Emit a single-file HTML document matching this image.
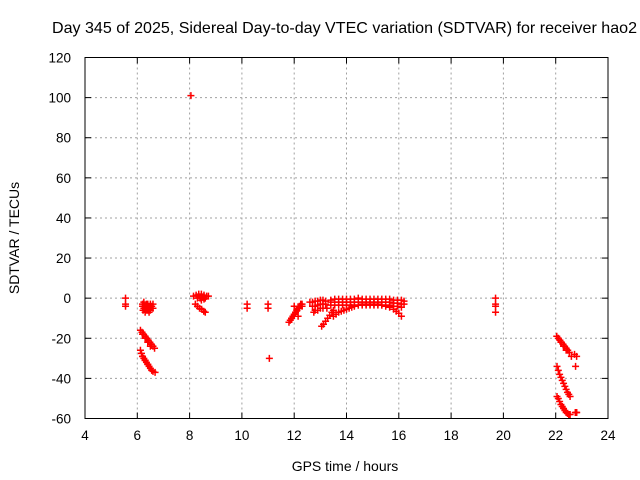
<!DOCTYPE html>
<html><head><meta charset="utf-8"><style>
body{margin:0;background:#fff}
svg{display:block;font-family:"Liberation Sans",sans-serif}
</style></head><body>
<svg id="chart" width="640" height="480" viewBox="0 0 640 480">
<rect width="640" height="480" fill="#fff"/>
<text x="52" y="33" font-size="16" textLength="585" lengthAdjust="spacingAndGlyphs">Day 345 of 2025, Sidereal Day-to-day VTEC variation (SDTVAR) for receiver hao2</text>
<g id="grid"></g>
<g id="ticks"></g>
<g id="pts"></g>
<rect x="85" y="57.5" width="523" height="361" fill="none" stroke="#000" stroke-width="1"/>
<text transform="translate(19,238) rotate(-90)" font-size="14" text-anchor="middle">SDTVAR / TECUs</text>
<text x="345" y="471" font-size="14" text-anchor="middle">GPS time / hours</text>
</svg>
<script>
const xTicks=[4,6,8,10,12,14,16,18,20,22,24];
const yTicks=[-60,-40,-20,0,20,40,60,80,100,120];
const hours=[5.55,5.55,5.55,
6.2,6.25,6.3,6.35,6.4,6.45,6.5,6.55,6.6,6.3,6.4,6.25,6.5,6.22,6.35,6.45,6.6,6.3,6.5,6.2,6.4,
6.12,6.18,6.24,6.3,6.36,6.42,6.48,6.54,6.6,6.66,6.2,6.3,6.4,6.5,
6.12,6.16,6.2,6.25,6.3,6.35,6.4,6.45,6.5,6.55,6.6,6.68,6.2,6.3,6.4,
8.05,
8.15,8.25,8.35,8.45,8.55,8.65,8.72,8.3,8.4,8.5,8.6,8.45,8.55,
8.22,8.3,8.38,8.46,8.54,8.6,
10.2,10.2,11.0,11.0,11.05,
11.8,11.85,11.9,11.95,12.0,12.05,12.1,12.15,12.2,12.25,12.3,12.0,12.1,12.2,12.3,12.15,11.9,
12.6,12.7,12.8,12.9,13.0,13.1,13.2,12.7,12.8,12.9,13.0,13.1,13.2,12.8,12.9,13.0,13.1,12.75,13.25,
13.05,13.12,13.2,13.28,13.36,13.44,13.5,
13.4,13.55,13.7,13.85,14.0,14.15,14.3,14.45,14.6,14.75,14.9,15.05,15.2,15.35,15.5,15.65,15.8,15.95,16.1,16.2,
13.4,13.55,13.7,13.85,14.0,14.15,14.3,14.45,14.6,14.75,14.9,15.05,15.2,15.35,15.5,15.65,15.8,15.95,16.1,16.2,
13.4,13.55,13.7,13.85,14.0,14.15,14.3,14.45,14.6,14.75,14.9,15.05,15.2,15.35,15.5,15.65,15.8,15.95,16.1,
13.5,13.6,13.7,13.8,13.9,14.0,14.1,14.2,14.3,14.45,14.6,14.75,14.9,15.05,15.2,15.35,15.5,15.65,15.8,15.9,16.0,16.1,
19.7,19.7,19.7,19.7,
22.04,22.1,22.16,22.22,22.28,22.34,22.4,22.46,22.52,22.6,22.2,22.3,22.4,
22.72,22.8,22.76,22.8,
22.05,22.1,22.15,22.2,22.25,22.3,22.35,22.4,22.45,22.5,22.55,
22.05,22.1,22.15,22.2,22.25,22.3,22.35,22.4,22.45,22.5,22.55,22.8,22.75];
const values=[0,-3,-4,
-3,-5,-4,-6,-5,-4,-5,-4,-5,-7,-3,-2,-6,-6,-3,-7,-3,-5,-3,-4,-6,
-16,-17,-18,-19,-20,-21,-22,-23,-24,-25,-18,-20,-22,-24,
-26,-27.5,-29,-30,-31,-32,-33,-34,-35,-36,-36.5,-37,-29,-31,-33,
101,
1,1.5,2,2,1.5,1,1,0,0,0.5,0,-1,-0.5,
-3,-4,-5,-5.5,-6.5,-7,
-3,-5,-3,-5,-30,
-12,-11,-10,-9,-8,-7,-6,-5,-4,-3,-3,-4,-6,-5,-4,-9,-10,
-2,-2,-1.5,-1.5,-1,-1,-1.5,-4,-4,-3.5,-3,-3,-3,-6,-6,-5,-5,-7,-5,
-14,-13,-11.5,-10,-8.5,-7,-6,
-1,-0.5,-0.5,-0.5,-0.5,-0.5,-0.5,0,-0.5,-0.5,-0.5,-0.5,-0.5,-0.5,-0.5,-0.5,-1,-1,-1,-1.5,
-2,-2,-2,-2,-2,-2,-2,-2,-2,-2,-2,-2,-2,-2,-2,-2,-2.5,-2.5,-3,-3,
-3.5,-3.5,-3.5,-3.5,-3.5,-3.5,-3.5,-3.5,-3.5,-3.5,-3.5,-3.5,-3.5,-3.5,-3.5,-3.5,-4,-4,-4.5,
-9,-8,-7,-6.5,-6,-5.5,-5,-4.5,-4,-3.5,-3,-3,-3,-3,-3,-3.5,-4,-4.5,-5.5,-6.5,-7.5,-9,
0,-3,-4,-7,
-19,-20,-21,-22,-23,-24,-25,-26,-27,-29,-22,-24,-26,
-28,-29,-34,-57,
-34,-36,-38,-39.5,-41,-42.5,-44,-45.5,-47,-48,-49,
-49,-50,-51.5,-53,-54,-55,-56,-57,-57.5,-58,-58,-57,-57];
const X=h=>85+(h-4)*(523/20);
const Y=v=>418.5-(v+60)*(361/180);
const NS='http://www.w3.org/2000/svg';
const grid=document.getElementById('grid'),ticks=document.getElementById('ticks'),pts=document.getElementById('pts');
function mk(tag,attrs,parent){const e=document.createElementNS(NS,tag);for(const k in attrs)e.setAttribute(k,attrs[k]);parent.appendChild(e);return e;}
xTicks.forEach(t=>{
  const x=X(t);
  if(t>4&&t<24){const g=mk('line',{x1:x,y1:57.5,x2:x,y2:418.5,stroke:'#a0a0a0','stroke-dasharray':'2,3'},grid);
  
  }
  mk('line',{x1:x,y1:418.5,x2:x,y2:412.5,stroke:'#000'},ticks);
  mk('line',{x1:x,y1:57.5,x2:x,y2:63.5,stroke:'#000'},ticks);
  const tx=mk('text',{x:x,y:440,'font-size':13.5,'text-anchor':'middle'},ticks);
  tx.textContent=t;
  
  
});
yTicks.forEach(t=>{
  const y=Y(t);
  if(t>-60&&t<120){const g=mk('line',{x1:85,y1:y,x2:608,y2:y,stroke:'#a0a0a0','stroke-dasharray':'2,3'},grid);
  
  }
  mk('line',{x1:85,y1:y,x2:91,y2:y,stroke:'#000'},ticks);
  mk('line',{x1:608,y1:y,x2:602,y2:y,stroke:'#000'},ticks);
  const tx=mk('text',{x:71,y:y+5,'font-size':13.5,'text-anchor':'end'},ticks);
  tx.textContent=t;
  
  
});
hours.forEach((h,i)=>{
  const x=X(h),y=Y(values[i]);
  const p=mk('path',{d:`M${x-3.5},${y}h7M${x},${y-3.5}v7`,stroke:'#f00','stroke-width':1.5,fill:'none'},pts);
  
  
});
</script>
</body></html>
